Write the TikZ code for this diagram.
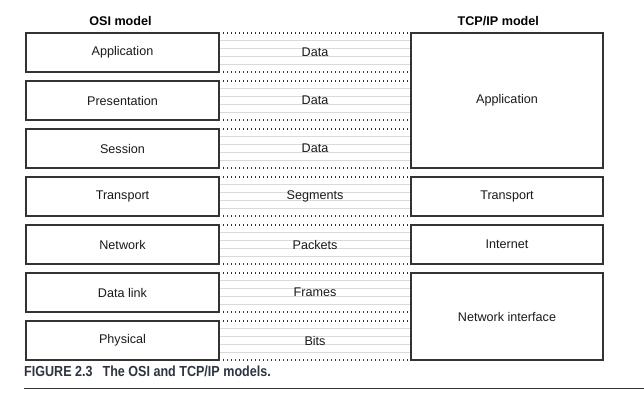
\documentclass[tikz,border=0pt]{standalone}
\usepackage{fontspec}
\setmainfont{Liberation Sans}
\newfontfamily\capfont[FakeStretch=0.86]{Liberation Sans}
\definecolor{boxline}{HTML}{333333}
\definecolor{greyline}{HTML}{DADADA}
\definecolor{capcol}{HTML}{2B3440}
\tikzset{
  layerbox/.style={draw=boxline, line width=1.3pt, minimum height=39pt, inner sep=0pt, font=\fontsize{12.6}{14}\selectfont, text=black!90},
  osibox/.style={layerbox, minimum width=193pt},
  tcpbox/.style={layerbox, minimum width=192pt},
  midlabel/.style={inner sep=1pt, font=\fontsize{12.6}{14}\selectfont, text=black!90},
  header/.style={font=\bfseries\fontsize{12.6}{14}\selectfont, text=black},
  dotline/.style={draw=boxline, line width=1.2pt, dash pattern=on 1.4pt off 2.6pt},
  greyl/.style={draw=greyline, line width=0.9pt},
}
\begin{document}
\begin{tikzpicture}[x=1pt,y=-1pt]
\useasboundingbox (0,0) rectangle (644,408);
% middle bands
\foreach \k in {0,...,6}{
  \pgfmathsetmacro{\t}{33+48*\k}
  \foreach \i in {1,...,4}{
    \draw[greyl] (219,\t+7.8*\i) -- (411,\t+7.8*\i);
  }
  \draw[dotline] (219,\t) -- (411,\t);
  \draw[dotline] (219,\t+39) -- (411,\t+39);
}
% headers
\node[header] (hosi) at (120.5,21) {OSI model};
\node[header] (htcp) at (498.3,21) {TCP/IP model};
% OSI boxes
\node[osibox] (app) at (122.5,52.5) {Application};
\node[osibox] (pres) at (122.5,100.5) {Presentation};
\node[osibox] (sess) at (122.5,148.5) {Session};
\node[osibox] (trans) at (122.5,196.5) {Transport};
\node[osibox] (net) at (122.5,244.5) {Network};
\node[osibox] (dl) at (122.5,292.5) {Data link};
\node[osibox] (phy) at (122.5,340.5) {Physical};
% middle labels
\node[midlabel] (d1) at (315,52.5) {Data};
\node[midlabel] (d2) at (315,100.5) {Data};
\node[midlabel] (d3) at (315,148.5) {Data};
\node[midlabel] (seg) at (315,196.5) {Segments};
\node[midlabel] (pkt) at (315,244.5) {Packets};
\node[midlabel] (frm) at (315,292.5) {Frames};
\node[midlabel] (bits) at (315,340.5) {Bits};
% TCP/IP boxes
\node[tcpbox, minimum height=135pt] (tapp) at (507,100.5) {Application};
\node[tcpbox] (ttrans) at (507,196.5) {Transport};
\node[tcpbox] (tnet) at (507,244.5) {Internet};
\node[tcpbox, minimum height=87pt] (tni) at (507,316.5) {Network interface};
% caption
\node[anchor=base west, inner sep=0pt, text=capcol, font=\capfont\bfseries\fontsize{14.6}{16}\selectfont] (cap) at (24,376.3) {FIGURE 2.3\hspace{0.45em} The OSI and TCP/IP models.};
\coordinate (rl) at (24,388.5);
\coordinate (rr) at (644,388.5);
\draw[capcol, line width=1.2pt] (rl) -- (rr);
\end{tikzpicture}
\end{document}
